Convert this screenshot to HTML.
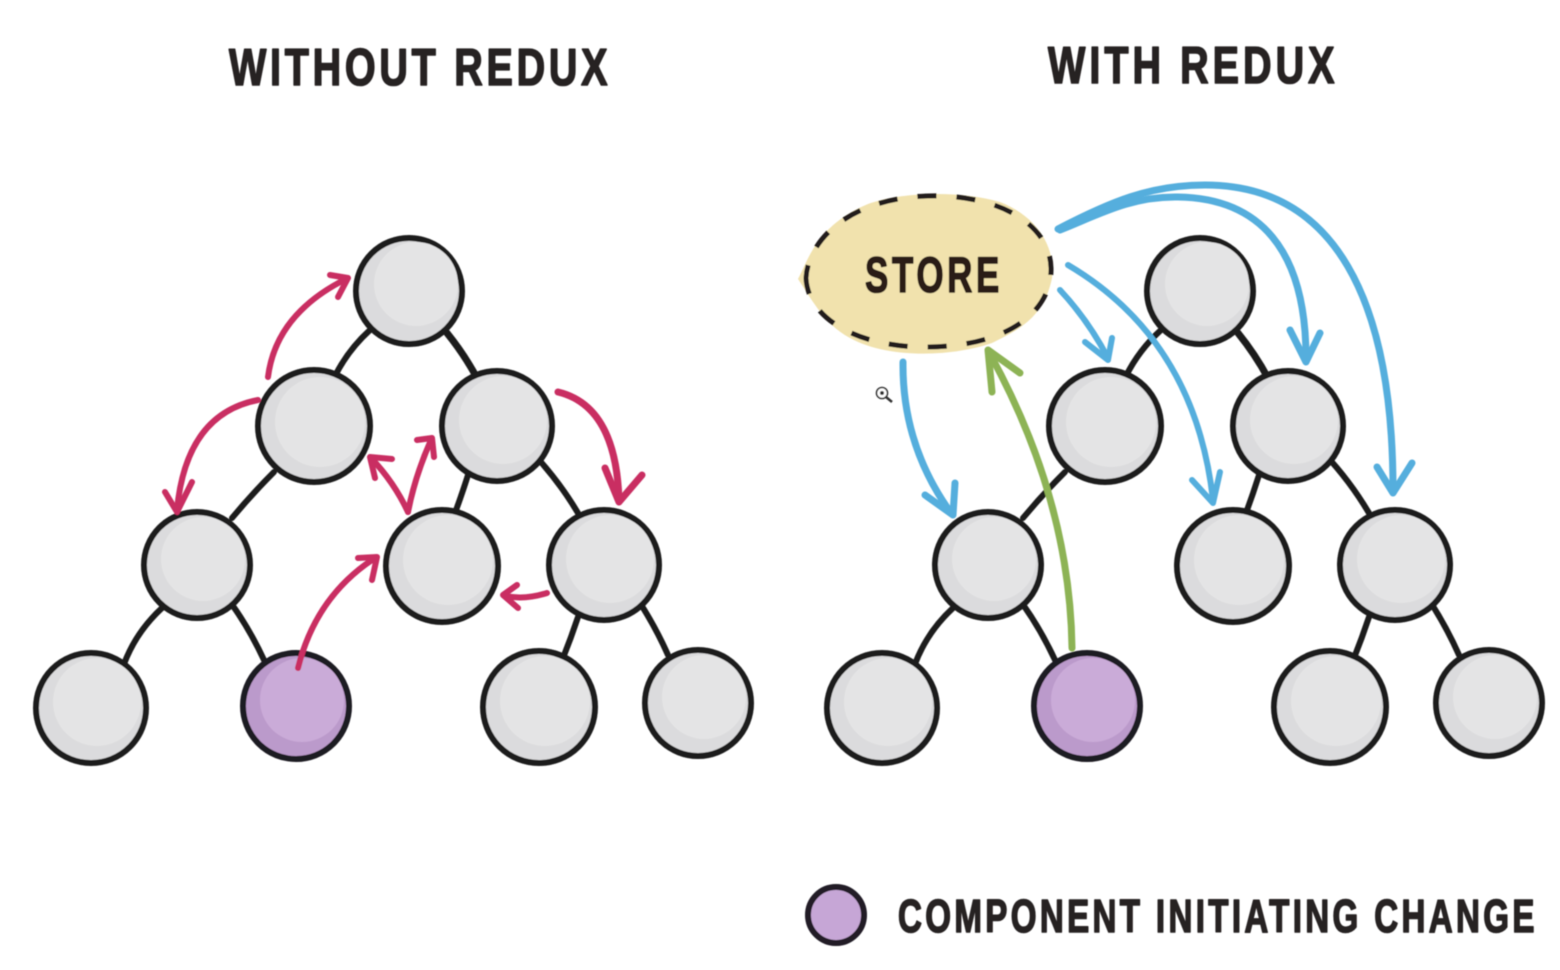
<!DOCTYPE html>
<html>
<head>
<meta charset="utf-8">
<style>
html,body{margin:0;padding:0;background:#fff;width:1560px;height:970px;overflow:hidden}
svg{display:block}
text{font-family:"Liberation Sans",sans-serif;font-weight:700;fill:#262324;stroke:#262324;stroke-width:1.6;stroke-linejoin:round}
</style>
</head>
<body>
<svg width="1560" height="970" viewBox="0 0 1560 970" xmlns="http://www.w3.org/2000/svg">
<defs>
<filter id="soft" x="-2%" y="-2%" width="104%" height="104%"><feGaussianBlur stdDeviation="0.6"/></filter>
<g id="tree" fill="none" stroke="#1f1f1f" stroke-width="6" stroke-linecap="round">
<path d="M335 376Q348 350 370 330"/>
<path d="M447 333Q464 354 477 378" stroke-width="7"/>
<path d="M232 518Q252 494 274 472"/>
<path d="M540 461Q564 488 582 520"/>
<path d="M468 475Q462 494 455 513"/>
<path d="M124 664Q136 632 162 608"/>
<path d="M233 606Q250 630 264 660"/>
<path d="M578 617Q571 638 563 658"/>
<path d="M640 603Q656 628 668 655"/>
</g>
<g id="nodes">
<g fill="#dbdbdd" stroke="#1f1f1f" stroke-width="6">
<circle cx="409" cy="291" r="53"/>
<circle cx="314" cy="426" r="56"/>
<circle cx="497" cy="426" r="55"/>
<circle cx="197" cy="565" r="53"/>
<circle cx="442" cy="566" r="56"/>
<circle cx="604" cy="565" r="55"/>
<circle cx="91" cy="708" r="55"/>
<circle cx="539" cy="707" r="56"/>
<circle cx="698" cy="703" r="53"/>
</g>
<g fill="#e4e4e5">
<circle cx="416" cy="284" r="42"/>
<circle cx="320" cy="422" r="45"/>
<circle cx="503" cy="420" r="44"/>
<circle cx="203" cy="559" r="42"/>
<circle cx="448" cy="560" r="45"/>
<circle cx="610" cy="559" r="44"/>
<circle cx="97" cy="702" r="44"/>
<circle cx="545" cy="701" r="45"/>
<circle cx="704" cy="697" r="42"/>
</g>
<circle cx="296" cy="706" r="53" fill="#bb9acb" stroke="#1f1a24" stroke-width="6"/>
<circle cx="302" cy="700" r="42" fill="#caabd8"/>
</g>
</defs>

<g filter="url(#soft)">
<text transform="translate(229,85) scale(.76,1)" font-size="52" textLength="498" lengthAdjust="spacing">WITHOUT REDUX</text>
<text transform="translate(1048,83) scale(.76,1)" font-size="52" textLength="377" lengthAdjust="spacing">WITH REDUX</text>

<use href="#tree"/>
<use href="#nodes"/>
<use href="#tree" x="791"/>
<use href="#nodes" x="791"/>

<!-- red arrows -->
<g fill="none" stroke="#c92f62" stroke-width="6" stroke-linecap="round" stroke-linejoin="round">
<path d="M268 377Q276 314 346 279"/><path d="M330 275L348 278L338 297"/>
<path d="M258 400Q186 414 177 510"/><path d="M165 492L177 512L192 482"/>
<path d="M558 392Q616 406 619 500" stroke-width="7"/><path d="M605 468L619 502L642 475" stroke-width="7"/>
<path d="M298 668Q316 596 375 558"/><path d="M358 558L377 557L372 580"/>
<path d="M547 593Q525 600 505 596"/><path d="M517 585L503 595L518 608"/>
<path d="M408 512Q394 482 371 458"/><path d="M392 459L370 457L375 478"/>
<path d="M408 512Q415 476 431 440"/><path d="M417 440L432 438L434 457"/>
</g>

<!-- store -->
<path d="M798 279C808 262 815 226 868 204C900 192 960 190 1000 202C1036 216 1056 246 1052 278C1044 318 1018 330 992 343C955 356 890 360 850 338C825 325 812 300 798 279Z" fill="#f1e2ad"/>
<path d="M806 278C808 240 850 198 928 196C1000 194 1050 225 1051 268C1052 310 1010 347 925 347C860 347 808 320 806 278Z" fill="none" stroke="#221f1c" stroke-width="5" stroke-dasharray="19 20" stroke-dashoffset="6"/>
<text transform="translate(865,292) scale(.7,1)" font-size="50" textLength="192" lengthAdjust="spacing" style="fill:#2a1f18;stroke:#2a1f18">STORE</text>

<!-- blue arrows -->
<g fill="none" stroke="#55aedd" stroke-width="7" stroke-linecap="round" stroke-linejoin="round">
<path d="M1058 229C1110 202 1150 185 1205 185C1335 185 1393 300 1393 490"/>
<path d="M1377 467L1393 493L1412 463"/>
<path d="M1060 230C1100 214 1130 197 1175 197C1260 197 1306 250 1306 358"/>
<path d="M1290 330L1306 362L1320 333"/>
<path d="M1068 265Q1195 340 1213 500" stroke-width="6"/>
<path d="M1192 480L1213 503L1220 472" stroke-width="6"/>
<path d="M1060 290Q1088 320 1108 358" stroke-width="6"/>
<path d="M1085 342L1108 360L1112 338" stroke-width="6"/>
<path d="M903 362Q902 445 951 513"/>
<path d="M925 495L953 515L955 483"/>
</g>
<!-- green arrow -->
<g fill="none" stroke="#8db355" stroke-width="7" stroke-linecap="round" stroke-linejoin="round">
<path d="M1072 648Q1070 500 990 354"/>
<path d="M992 392L988 350L1020 373"/>
</g>

<!-- legend -->
<circle cx="836" cy="915" r="28" fill="#c6a6d6" stroke="#211c26" stroke-width="6"/>
<text transform="translate(898,932) scale(.72,1)" font-size="46" textLength="884" lengthAdjust="spacing">COMPONENT INITIATING CHANGE</text>

<!-- cursor -->
<circle cx="882" cy="393" r="5.5" fill="#fff" stroke="#333" stroke-width="1.6"/>
<circle cx="882" cy="393" r="2" fill="#333"/>
<path d="M886 397L892 402" stroke="#333" stroke-width="2.5"/>
</g>
</svg>
</body>
</html>
